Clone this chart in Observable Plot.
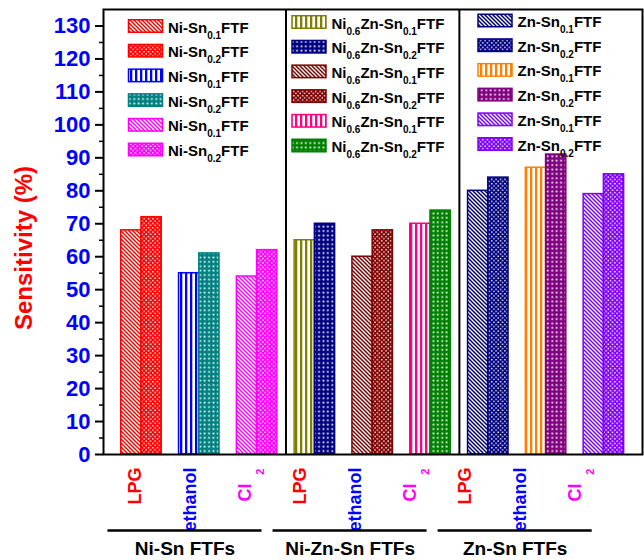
<!DOCTYPE html>
<html><head><meta charset="utf-8">
<script src="https://cdn.jsdelivr.net/npm/d3@7"></script>
<script src="https://cdn.jsdelivr.net/npm/@observablehq/plot@0.6"></script>
<style>
body{margin:0;background:#fff}
</style>
</head><body>
<script>
// ---------- data ----------
const groups = ["Ni-Sn FTFs", "Ni-Zn-Sn FTFs", "Zn-Sn FTFs"];
const gases = ["LPG", "ethanol", "Cl"];
const gasSubs = ["", "", "2"];
const gasColors = ["#ff0000", "#0000ff", "#ff00ff"];
const sn01 = [68, 55, 54, 65, 60, 70, 80, 87, 79];
const sn02 = [72, 61, 62, 70, 68, 74, 84, 91, 85];
const colors01 = ["#ff0000","#0000ff","#ff00ff","#808000","#800000","#ff0080","#000080","#ff8000","#8000ff"];
const colors02 = ["#ff0000","#008080","#ff00ff","#000080","#800000","#008000","#000080","#800080","#8000ff"];
const patterns01 = ["diag","vert","diag","vert","diag","vert","diag","vert","diag"];
const patterns02 = ["dots","grid","dots","grid","dots","grid","dots","grid","dots"];
const names01 = ["Ni-Sn_0.1_FTF","Ni-Sn_0.1_FTF","Ni-Sn_0.1_FTF",
  "Ni_0.6_Zn-Sn_0.1_FTF","Ni_0.6_Zn-Sn_0.1_FTF","Ni_0.6_Zn-Sn_0.1_FTF",
  "Zn-Sn_0.1_FTF","Zn-Sn_0.1_FTF","Zn-Sn_0.1_FTF"];
const names02 = ["Ni-Sn_0.2_FTF","Ni-Sn_0.2_FTF","Ni-Sn_0.2_FTF",
  "Ni_0.6_Zn-Sn_0.2_FTF","Ni_0.6_Zn-Sn_0.2_FTF","Ni_0.6_Zn-Sn_0.2_FTF",
  "Zn-Sn_0.2_FTF","Zn-Sn_0.2_FTF","Zn-Sn_0.2_FTF"];
const yTicks = d3.range(0, 131, 10);
const yMinor = d3.range(5, 131, 10);

// ---------- table ----------
const bars = [];
sn01.forEach((v, i) => {
  bars.push({i, slot: 0, value: v, color: colors01[i], pattern: patterns01[i], name: names01[i]});
  bars.push({i, slot: 1, value: sn02[i], color: colors02[i], pattern: patterns02[i], name: names02[i]});
});
bars.forEach(b => b.fill = `url(#${b.pattern}-${b.color.slice(1)})`);
const W = 0.35;                       // bar width in category units
const nG = gases.length;
const labelX = k => k * 0.952 - 0.104; // tick-label placement along x
const idx = d3.range(sn01.length);
const FONT = '"Liberation Sans", Arial, Helvetica, sans-serif';

const plot = Plot.plot({
  width: 644, height: 560,
  marginLeft: 103, marginRight: 2, marginTop: 9, marginBottom: 106,
  style: {fontFamily: FONT, background: "#fff"},
  x: {type: "linear", domain: [-0.657, 8.668], axis: null},
  y: {domain: [0, 135], axis: null},
  color: {type: "identity"},
  marks: [
    Plot.rect(bars, {x1: d => d.i - W + d.slot * W, x2: d => d.i + d.slot * W, y1: 0, y2: "value",
      fill: "fill", stroke: "color", strokeWidth: 1.5}),
    Plot.ruleX(d3.range(1, groups.length).map(g => g * nG - 0.5), {stroke: "#000", strokeWidth: 2}),
    Plot.frame({stroke: "#000", strokeWidth: 2}),
    Plot.axisY({ticks: yTicks, tickSize: 8, tickPadding: 5, fontSize: 22, fontWeight: "bold",
      fill: "#0000ff", stroke: "#000", strokeWidth: 2, label: null}),
    Plot.axisY({ticks: yMinor, tickSize: 4, tickFormat: () => "", stroke: "#000", strokeWidth: 1.5, label: null}),
    Plot.text(["Sensitivity (%)"], {frameAnchor: "left", textAnchor: "middle", lineAnchor: "middle",
      rotate: -90, dx: -79, dy: 16, text: d => d, fill: "#ff0000", fontSize: 24, fontWeight: "bold"}),
    // category labels
    Plot.text(idx.filter(i => !gasSubs[i % nG]), {x: i => labelX(i), frameAnchor: "bottom", rotate: -90,
      textAnchor: "end", lineAnchor: "middle", dy: 13, text: i => gases[i % nG],
      fill: i => gasColors[i % nG], fontSize: 18, fontWeight: "bold"}),
    Plot.text(idx.filter(i => gasSubs[i % nG]), {x: i => labelX(i), frameAnchor: "bottom", rotate: -90,
      textAnchor: "end", lineAnchor: "middle", dy: 29, text: i => gases[i % nG],
      fill: i => gasColors[i % nG], fontSize: 18, fontWeight: "bold"}),
    Plot.text(idx.filter(i => gasSubs[i % nG]), {x: i => labelX(i), frameAnchor: "bottom", rotate: -90,
      textAnchor: "end", lineAnchor: "middle", dx: 14.5, dy: 14, text: i => gasSubs[i % nG],
      fill: i => gasColors[i % nG], fontSize: 11, fontWeight: "bold"}),
    // group brackets and names
    Plot.ruleY(groups, {y: 0, x1: (d, g) => labelX(g * nG - 0.5), x2: (d, g) => labelX(g * nG + 2.3),
      dy: 76, stroke: "#000", strokeWidth: 2.5}),
    Plot.text(groups, {x: (d, g) => labelX(g * nG + 0.9), frameAnchor: "bottom", dy: 94,
      textAnchor: "middle", lineAnchor: "middle", text: d => d, fill: "#000", fontSize: 19, fontWeight: "bold"})
  ]
});
document.body.appendChild(plot);

// ---------- patterns ----------
const svg = d3.select(plot);
const defs = svg.insert("defs", ":first-child");
const made = new Set();
bars.forEach(b => {
  const id = `${b.pattern}-${b.color.slice(1)}`;
  if (made.has(id)) return; made.add(id);
  const c = b.color;
  if (b.pattern === "diag") {
    const p = defs.append("pattern").attr("id", id).attr("patternUnits", "userSpaceOnUse").attr("width", 4).attr("height", 4);
    p.append("rect").attr("width", 4).attr("height", 4).attr("fill", c);
    p.append("path").attr("d", "M-1,-1L5,5M-1,3L1,5M3,-1L5,1").attr("stroke", "#fff").attr("stroke-width", 1.3);
  } else if (b.pattern === "vert") {
    const p = defs.append("pattern").attr("id", id).attr("patternUnits", "userSpaceOnUse").attr("width", 5).attr("height", 5);
    p.append("rect").attr("width", 5).attr("height", 5).attr("fill", "#fff");
    p.append("rect").attr("width", 2.3).attr("height", 5).attr("fill", c);
  } else if (b.pattern === "dots") {
    const p = defs.append("pattern").attr("id", id).attr("patternUnits", "userSpaceOnUse").attr("width", 4.4).attr("height", 4.4);
    p.append("rect").attr("width", 4.4).attr("height", 4.4).attr("fill", c);
    p.append("rect").attr("x", 0.4).attr("y", 0.4).attr("width", 1.4).attr("height", 1.4).attr("fill", "#fff");
    p.append("rect").attr("x", 2.6).attr("y", 2.6).attr("width", 1.4).attr("height", 1.4).attr("fill", "#fff");
  } else {
    const p = defs.append("pattern").attr("id", id).attr("patternUnits", "userSpaceOnUse").attr("width", 4.4).attr("height", 4.4);
    p.append("rect").attr("width", 4.4).attr("height", 4.4).attr("fill", c);
    p.append("rect").attr("x", 1.4).attr("y", 1.4).attr("width", 1.7).attr("height", 1.7).attr("fill", "#fff");
  }
});

// ---------- legends ----------
const legX = [128.5, 292, 478];
const legY = [26, 22, 20.5];
const step = 24.7;
const leg = svg.append("g").attr("text-anchor", "start").attr("font-family", FONT);
bars.forEach((b, k) => {
  const p = Math.floor(k / 6), r = k % 6;
  const cy = legY[p] + r * step;
  leg.append("rect").attr("x", legX[p]).attr("y", cy - 6.25).attr("width", 34).attr("height", 12.5)
    .attr("fill", b.fill).attr("stroke", b.color).attr("stroke-width", 1.5);
  const t = leg.append("text").attr("x", legX[p] + 39.5).attr("y", cy + 6.5).attr("text-anchor", "start")
    .attr("font-size", 15).attr("font-weight", "bold").attr("fill", "#000");
  b.name.split("_").forEach((s, j) => {
    const ts = t.append("tspan").text(s);
    if (j % 2) ts.attr("font-size", 10).attr("dy", 6);
    else if (j > 0) ts.attr("dy", -6);
  });
});
</script>
</body></html>
